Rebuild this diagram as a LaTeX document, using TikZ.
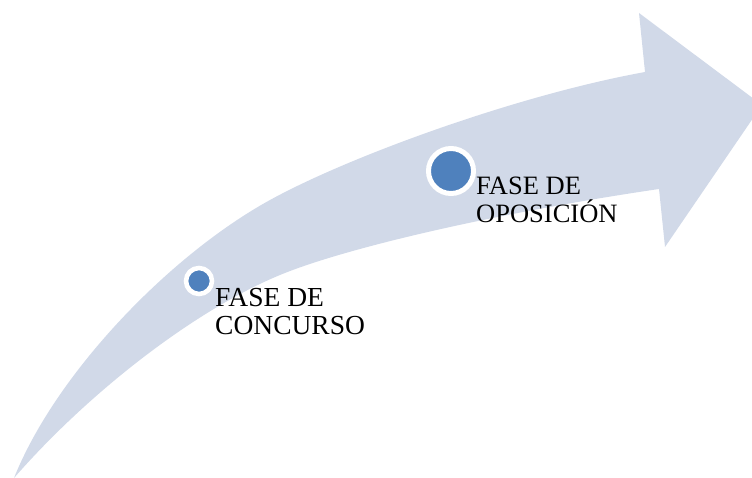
\documentclass[tikz,border=0pt]{standalone}
\usepackage{fontspec}
\setmainfont{Liberation Serif}
\definecolor{band}{RGB}{209,217,232}
\definecolor{dotblue}{RGB}{79,129,189}
\begin{document}
\begin{tikzpicture}[x=1pt,y=-1pt,
  dot/.style={circle,fill=dotblue,draw=white,inner sep=0pt},
  lbl/.style={anchor=base west,inner sep=0pt,align=left,text=black}]
\useasboundingbox (0,0) rectangle (752,478);
\clip (0,0) rectangle (752,478);
\fill[band] (14,478) .. controls (56,373) and (170,255) .. (270,200)
  .. controls (350,156) and (518,95) .. (645,72)
  -- (639,13) -- (762,105) -- (665,247) -- (659,189)
  .. controls (496,213) and (345,248) .. (280,275)
  .. controls (195,310) and (89,392) .. (14,478) -- cycle;
\node[dot, minimum size=45pt, line width=5pt] (dotB) at (451,171) {};
\node[dot, minimum size=26pt, line width=4.6pt] (dotA) at (199,281) {};
\node[lbl, font=\fontsize{26.5}{28}\selectfont] (txtB) at (476,223) {FASE DE\\OPOSICIÓN};
\node[lbl, font=\fontsize{27.5}{28}\selectfont] (txtA) at (215,334) {FASE DE\\CONCURSO};
\end{tikzpicture}
\end{document}
